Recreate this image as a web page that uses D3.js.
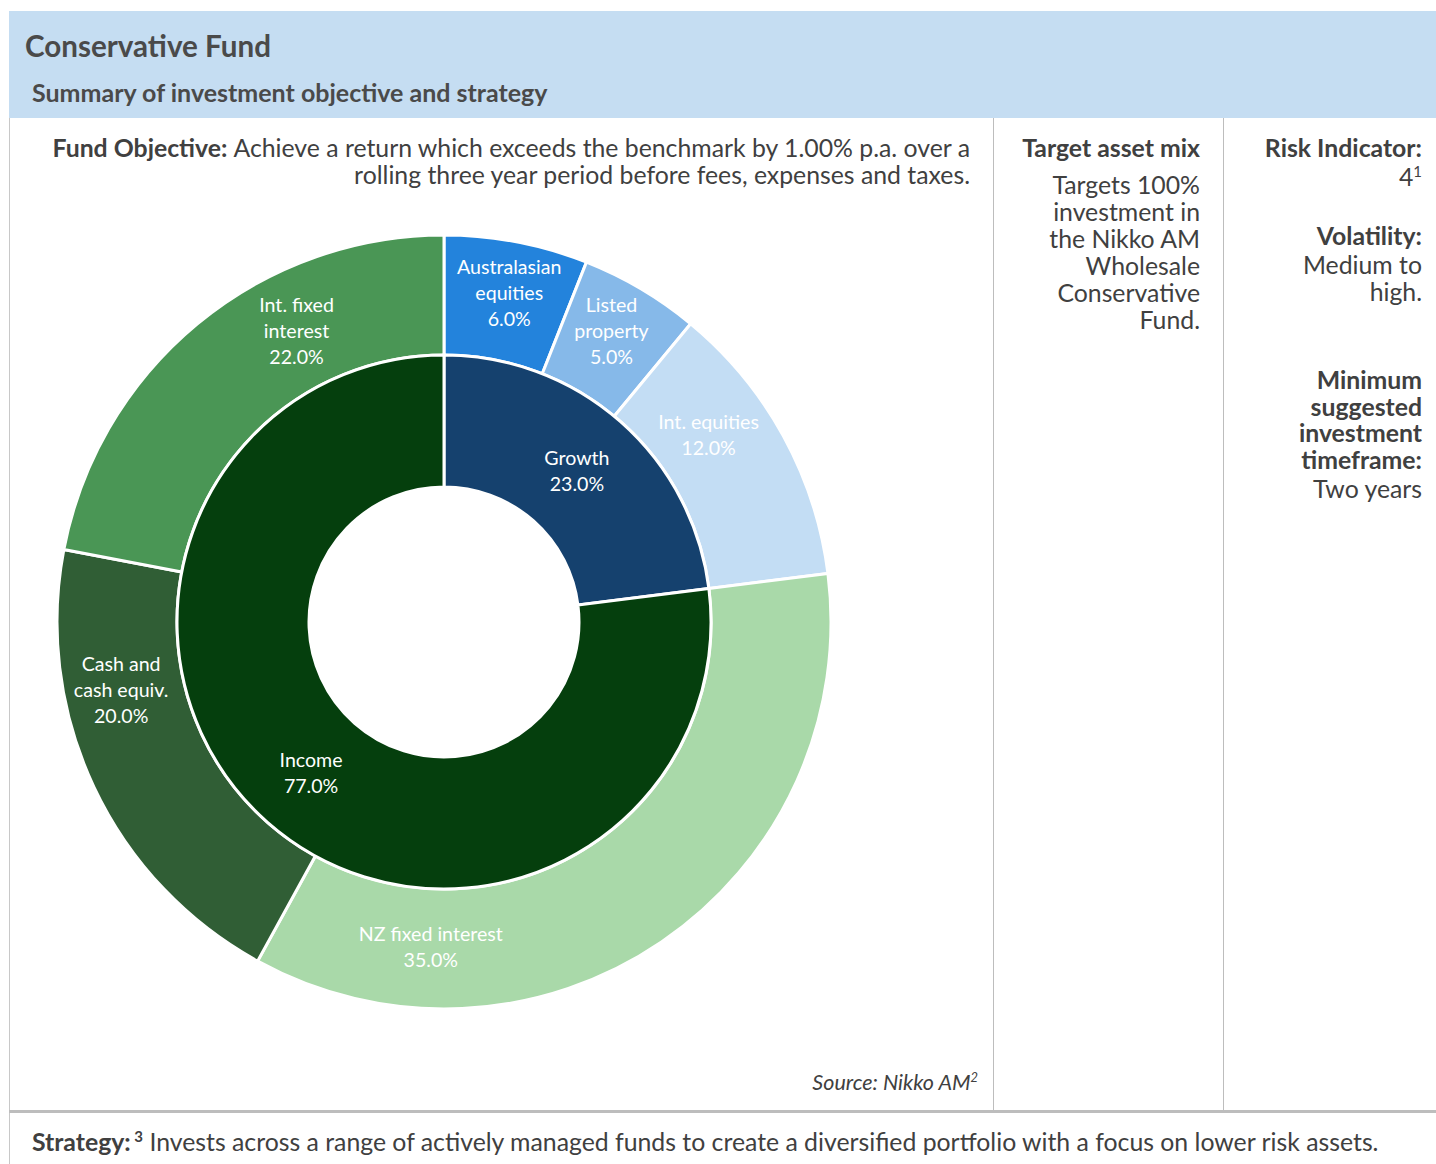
<!DOCTYPE html>
<html>
<head>
<meta charset="utf-8">
<script src="https://cdn.jsdelivr.net/npm/d3@7"></script>
<style>
  body { margin: 0; background: #fff; }
  svg text { font-family: Lato, "Open Sans", sans-serif; }
</style>
</head>
<body>
<div id="chart"></div>
<script>
// inner ring: growth / income split
var groups = ['Growth', 'Income']
var groupValues = [23, 77]
var groupColors = ['#15416e', '#053f0d']

// outer ring: asset classes
var assets = ['Australasian\nequities', 'Listed\nproperty', 'Int. equities', 'NZ fixed interest', 'Cash and\ncash equiv.', 'Int. fixed\ninterest']
var assetValues = [6, 5, 12, 35, 20, 22]
var assetColors = ['#2383dc', '#86b9e9', '#c3ddf4', '#a9d9a9', '#305e35', '#4a9655']

// label nudges from the arc centroid (outer labels were dragged in the original)
var labelNudge = [[4, -8], [1, -10], [-22, -29], [-197, 55], [-27, -71], [61, -39]]

var width = 1436
var height = 1164
var textColor = '#404040'
var bodySize = 24.8

var svg = d3.select('#chart')
  .append('svg')
  .attr('width', width)
  .attr('height', height)

// header band
svg.append('rect')
  .attr('x', 9).attr('y', 11)
  .attr('width', width - 9).attr('height', 107)
  .attr('fill', '#c5ddf2')

svg.append('text')
  .attr('x', 25).attr('y', 57)
  .attr('font-size', 29.6).attr('font-weight', 'bold')
  .attr('fill', '#4a4a4a')
  .text('Conservative Fund')

svg.append('text')
  .attr('x', 32).attr('y', 102)
  .attr('font-size', 25).attr('font-weight', 'bold')
  .attr('fill', '#4a4a4a')
  .text('Summary of investment objective and strategy')

// grid lines
svg.append('line')
  .attr('x1', 9.5).attr('x2', 9.5).attr('y1', 118).attr('y2', height)
  .attr('stroke', '#c8c8c8')
svg.selectAll('line.col')
  .data([993.5, 1223.5])
  .enter().append('line')
  .attr('class', 'col')
  .attr('x1', function (d) { return d }).attr('x2', function (d) { return d })
  .attr('y1', 118).attr('y2', 1110)
  .attr('stroke', '#bdbdbd')
svg.append('line')
  .attr('x1', 9).attr('x2', width).attr('y1', 1111.5).attr('y2', 1111.5)
  .attr('stroke', '#bdbdbd').attr('stroke-width', 3)

// helper for right aligned text blocks
function rightText (x, y, size, parts) {
  var t = svg.append('text')
    .attr('x', x).attr('y', y)
    .attr('text-anchor', 'end')
    .attr('font-size', size)
    .attr('fill', textColor)
  parts.forEach(function (p) {
    var s = t.append('tspan').text(p.t)
    if (p.b) s.attr('font-weight', 'bold')
    if (p.sup) s.attr('font-size', size * 0.6).attr('baseline-shift', 'super')
  })
  return t
}

// fund objective
rightText(970, 157, bodySize, [{ t: 'Fund Objective: ', b: true }, { t: 'Achieve a return which exceeds the benchmark by 1.00% p.a. over a' }])
rightText(970, 184, bodySize, [{ t: 'rolling three year period before fees, expenses and taxes.' }])

// target asset mix column
rightText(1200, 157, bodySize, [{ t: 'Target asset mix', b: true }])
var mixLines = ['Targets 100%', 'investment in', 'the Nikko AM', 'Wholesale', 'Conservative', 'Fund.']
mixLines.forEach(function (l, i) {
  rightText(1200, 194 + i * 27, bodySize, [{ t: l }])
})

// risk column
rightText(1422, 157, bodySize, [{ t: 'Risk Indicator:', b: true }])
rightText(1422, 186, bodySize, [{ t: '4' }, { t: '1', sup: true }])
rightText(1422, 245, bodySize, [{ t: 'Volatility:', b: true }])
rightText(1422, 274, bodySize, [{ t: 'Medium to' }])
rightText(1422, 301, bodySize, [{ t: 'high.' }])
var minLines = ['Minimum', 'suggested', 'investment', 'timeframe:']
minLines.forEach(function (l, i) {
  rightText(1422, 389 + i * 26.5, bodySize, [{ t: l, b: true }])
})
rightText(1422, 498, bodySize, [{ t: 'Two years' }])

// source
rightText(978, 1090, 21.5, [{ t: 'Source: Nikko AM' }, { t: '2', sup: true }])
  .attr('font-style', 'italic')

// strategy
var strat = svg.append('text')
  .attr('x', 32).attr('y', 1151)
  .attr('font-size', bodySize)
  .attr('fill', textColor)
strat.append('tspan').attr('font-weight', 'bold').text('Strategy:')
strat.append('tspan').attr('font-weight', 'bold').attr('font-size', 15).attr('baseline-shift', 'super').text(' 3')
strat.append('tspan').text(' Invests across a range of actively managed funds to create a diversified portfolio with a focus on lower risk assets.')

// donut
var cx = 444
var cy = 622
var g = svg.append('g').attr('transform', 'translate(' + cx + ',' + cy + ')')

var pie = d3.pie().sort(null).value(function (d) { return d })
var innerArc = d3.arc().innerRadius(135).outerRadius(267)
var outerArc = d3.arc().innerRadius(267).outerRadius(387)

var innerData = pie(groupValues)
var outerData = pie(assetValues)

g.selectAll('path.outer')
  .data(outerData)
  .enter().append('path')
  .attr('class', 'outer')
  .attr('d', outerArc)
  .attr('fill', function (d, i) { return assetColors[i] })
  .attr('stroke', '#fff').attr('stroke-width', 3)

g.selectAll('path.inner')
  .data(innerData)
  .enter().append('path')
  .attr('class', 'inner')
  .attr('d', innerArc)
  .attr('fill', function (d, i) { return groupColors[i] })
  .attr('stroke', '#fff').attr('stroke-width', 3)

function addLabel (lines, pos) {
  var lh = 26
  var t = g.append('text')
    .attr('text-anchor', 'middle')
    .attr('font-size', 19.6)
    .attr('fill', '#fff')
  lines.forEach(function (l, i) {
    t.append('tspan')
      .attr('x', pos[0])
      .attr('y', pos[1] + (i - (lines.length - 1) / 2) * lh + 7)
      .text(l)
  })
}

outerData.forEach(function (d, i) {
  var c = outerArc.centroid(d)
  var lines = assets[i].split('\n').concat([assetValues[i].toFixed(1) + '%'])
  addLabel(lines, [c[0] + labelNudge[i][0], c[1] + labelNudge[i][1]])
})
innerData.forEach(function (d, i) {
  var c = innerArc.centroid(d)
  addLabel([groups[i], groupValues[i].toFixed(1) + '%'], c)
})
</script>
</body>
</html>
